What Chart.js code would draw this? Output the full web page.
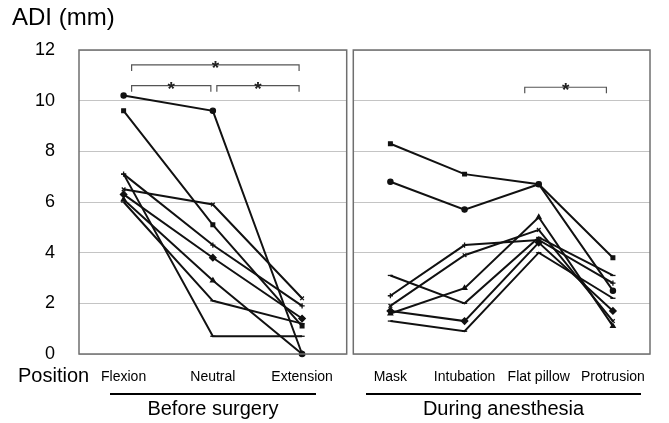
<!DOCTYPE html>
<html><head><meta charset="utf-8">
<script src="https://cdn.jsdelivr.net/npm/chart.js@4/dist/chart.umd.min.js"></script>
<style>
html,body{margin:0;padding:0;background:#fff;}
#wrap{position:relative;width:669px;height:423px;overflow:hidden;font-family:"Liberation Sans",Arial,sans-serif;color:#000;}
.abs{position:absolute;white-space:nowrap;}
#c1{position:absolute;left:0;top:0;}
#c2{position:absolute;left:348px;top:0;}
.ul{position:absolute;height:2px;background:#000;}
</style></head>
<body><div id="wrap">
<canvas id="c1" width="352" height="423"></canvas>
<canvas id="c2" width="321" height="423"></canvas>
<div class="abs" style="left:12px;top:3px;font-size:24px;">ADI (mm)</div>
<div class="abs" style="left:18px;top:364px;font-size:20px;">Position</div>
<div class="ul" style="left:110px;top:393px;width:206px;"></div>
<div class="ul" style="left:366px;top:393px;width:275px;"></div>
<div class="abs" style="left:110px;width:206px;top:397px;font-size:20px;text-align:center;">Before surgery</div>
<div class="abs" style="left:366px;width:275px;top:397px;font-size:20px;text-align:center;">During anesthesia</div>
</div>
<script>
// ---- data ----
const beforeLabels = ["Flexion", "Neutral", "Extension"];
const duringLabels = ["Mask", "Intubation", "Flat pillow", "Protrusion"];
const yTicks = [0, 2, 4, 6, 8, 10, 12];

const before1 = [10.2, 9.6, 0];
const before2 = [9.6, 5.1, 1.1];
const before3 = [6.5, 5.9, 2.2];
const before4 = [7.1, 4.3, 1.9];
const before5 = [7.1, 0.7, 0.7];
const before6 = [6.3, 3.8, 1.4];
const before7 = [6.1, 2.9, 0];
const before8 = [6.0, 2.1, 1.2];

const during1 = [8.3, 7.1, 6.7, 3.8];
const during2 = [6.8, 5.7, 6.7, 2.5];
const during3 = [3.1, 2.0, 4.6, 3.1];
const during4 = [2.3, 4.3, 4.5, 2.8];
const during5 = [1.9, 3.9, 4.9, 1.3];
const during6 = [1.6, 2.6, 5.4, 1.1];
const during7 = [1.7, 1.3, 4.4, 1.7];
const during8 = [1.3, 0.9, 4.0, 2.2];

const beforeSeries = [before1, before2, before3, before4, before5, before6, before7, before8];
const duringSeries = [during1, during2, during3, during4, during5, during6, during7, during8];
const beforeMarkers = ["circle", "rect", "crossRot", "cross", "line", "rectRot", "triangle", "line"];
const duringMarkers = ["rect", "circle", "line", "cross", "crossRot", "triangle", "rectRot", "line"];

// significance brackets: [fromIndex, toIndex, fromOffsetPx, toOffsetPx, level]
const beforeBrackets = [[0, 2, 8, -3, 11.41], [0, 1, 8, -2, 10.59], [1, 2, 4, -3, 10.59]];
const duringBrackets = [[2, 3, -14, -6.5, 10.53]];

const FONT = "'Liberation Sans', Arial, sans-serif";

function makeDatasets(series, markers) {
  return series.map((d, i) => ({
    data: d,
    borderColor: "#111",
    borderWidth: 2,
    backgroundColor: "#111",
    pointStyle: markers[i],
    pointRadius: markers[i] === "rectRot" ? 3.2 : 2.6,
    pointBorderColor: "#111",
    pointBackgroundColor: "#111",
    pointBorderWidth: 1.3,
    tension: 0,
    clip: false
  }));
}

const boxPlugin = {
  id: "box",
  afterDraw(chart) {
    const a = chart.chartArea, ctx = chart.ctx;
    ctx.save();
    ctx.strokeStyle = "#6f6f6f";
    ctx.lineWidth = 1.5;
    ctx.strokeRect(a.left, a.top, a.right - a.left, a.bottom - a.top);
    const br = chart.options.plugins.box.brackets || [];
    ctx.strokeStyle = "#555";
    ctx.lineWidth = 1.2;
    ctx.fillStyle = "#222";
    ctx.font = "bold 19px " + FONT;
    ctx.textAlign = "center";
    ctx.textBaseline = "alphabetic";
    const xs = chart.scales.x, ys = chart.scales.y;
    br.forEach(b => {
      const x1 = xs.getPixelForValue(b[0]) + b[2];
      const x2 = xs.getPixelForValue(b[1]) + b[3];
      const y = ys.getPixelForValue(b[4]);
      ctx.beginPath();
      ctx.moveTo(x1, y + 6); ctx.lineTo(x1, y); ctx.lineTo(x2, y); ctx.lineTo(x2, y + 6);
      ctx.stroke();
      ctx.fillText("*", (x1 + x2) / 2, y + 9);
    });
    ctx.restore();
  }
};

function makeChart(id, labels, series, markers, brackets, showY, padL, padR) {
  return new Chart(document.getElementById(id), {
    type: "line",
    data: { labels: labels, datasets: makeDatasets(series, markers) },
    plugins: [boxPlugin],
    options: {
      responsive: false,
      animation: false,
      layout: { padding: { left: padL, right: padR, top: 50, bottom: 0 } },
      plugins: { legend: { display: false }, tooltip: { enabled: false }, box: { brackets: brackets } },
      scales: {
        x: {
          offset: true,
          grid: { display: false, drawTicks: false },
          border: { display: false },
          ticks: { color: "#000", font: { family: FONT, size: 14 }, padding: 15, maxRotation: 0, autoSkip: false },
          afterFit: s => { s.height = 69; }
        },
        y: {
          min: 0, max: 12,
          afterBuildTicks: s => { s.ticks = yTicks.map(v => ({ value: v })); },
          grid: { color: "#c4c4c4", lineWidth: 1, drawTicks: false },
          border: { display: false },
          ticks: { display: showY, color: "#000", font: { family: FONT, size: 18 }, padding: 24 },
          afterFit: s => { s.width = showY ? 79 : 0; }
        }
      }
    }
  });
}

makeChart("c1", beforeLabels, beforeSeries, beforeMarkers, beforeBrackets, true, 0, 4);
makeChart("c2", duringLabels, duringSeries, duringMarkers, duringBrackets, false, 4, 19);
</script>
</body></html>
